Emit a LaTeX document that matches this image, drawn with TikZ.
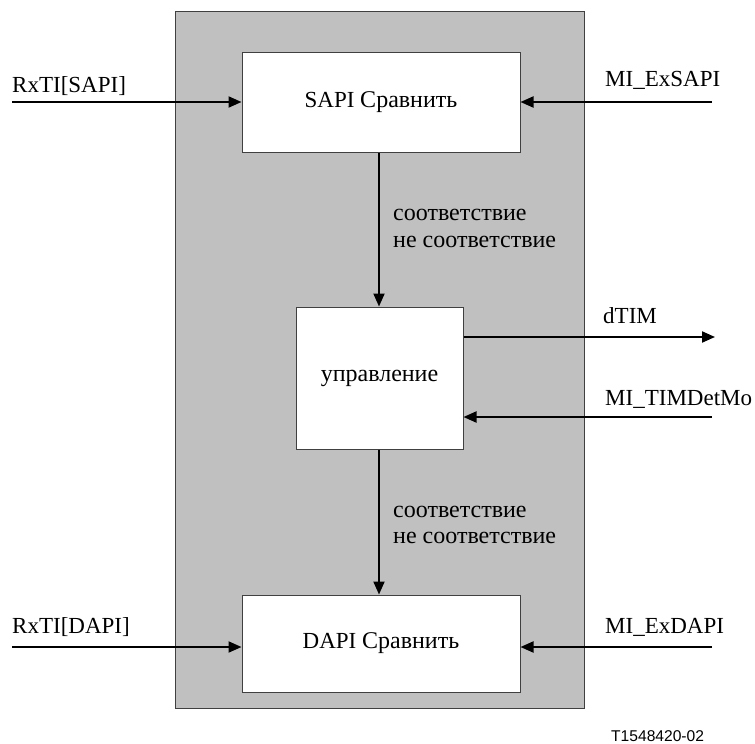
\documentclass[tikz,border=0pt]{standalone}
\usepackage{fontspec}
\setmainfont{Liberation Serif}
\newfontfamily\labelsans{Liberation Sans}
\usetikzlibrary{arrows.meta}
\definecolor{panel}{RGB}{192,192,192}
\definecolor{edge}{RGB}{64,64,64}
\begin{document}
\begin{tikzpicture}[x=1pt,y=-1pt,
  font=\fontsize{23}{27}\selectfont,
  cyr/.style={font=\fontsize{24}{28}\selectfont},
  blk/.style={draw=edge, line width=1pt, fill=white, inner sep=0pt},
  sig/.style={line width=2pt, -{Triangle[length=13pt,width=11pt]}},
  lbl/.style={anchor=base west, inner sep=0pt}]
\useasboundingbox (0,0) rectangle (755,744);
% grey frame of the TIM process
\node[draw=edge, line width=1pt, fill=panel, minimum width=409pt, minimum height=697pt, inner sep=0pt] (panel) at (379.5,359.5) {};
% function blocks
\node[blk, minimum width=278pt, minimum height=100pt] (sapi) at (381,102) {SAPI \fontsize{24}{28}\selectfont Сравнить};
\node[blk, cyr, minimum width=167pt, minimum height=142pt] (ctrl) at (379.5,378) {управление};
\node[blk, minimum width=278pt, minimum height=97pt] (dapi) at (381,643.5) {DAPI \fontsize{24}{28}\selectfont Сравнить};
% free ends of the external signals
\coordinate (inSapi) at (12,102);
\coordinate (exSapi) at (712,102);
\coordinate (outTim) at (715,337);
\coordinate (detMo) at (712,417);
\coordinate (inDapi) at (12,647);
\coordinate (exDapi) at (712,647);
% signals
\draw[sig] (inSapi) -- (inSapi -| sapi.west);
\draw[sig] (exSapi) -- (exSapi -| sapi.east);
\draw[sig] (sapi.south -| 379,0) -- (ctrl.north -| 379,0);
\draw[sig] (outTim -| ctrl.east) -- (outTim);
\draw[sig] (detMo) -- (detMo -| ctrl.east);
\draw[sig] (ctrl.south -| 379,0) -- (dapi.north -| 379,0);
\draw[sig] (inDapi) -- (inDapi -| dapi.west);
\draw[sig] (exDapi) -- (exDapi -| dapi.east);
% labels
\node[lbl] (lInSapi) at (12,92) {RxTI[SAPI]};
\node[lbl] (lExSapi) at (605,86) {MI\_ExSAPI};
\node[lbl, cyr] (lMatch1) at (393,220) {соответствие};
\node[lbl, cyr] (lMis1) at (393,247) {не соответствие};
\node[lbl] (lTim) at (603,323) {dTIM};
\node[lbl] (lDetMo) at (605,405) {MI\_TIMDetMo};
\node[lbl, cyr] (lMatch2) at (393,517) {соответствие};
\node[lbl, cyr] (lMis2) at (393,543) {не соответствие};
\node[lbl] (lInDapi) at (12,633) {RxTI[DAPI]};
\node[lbl] (lExDapi) at (605,633) {MI\_ExDAPI};
\node[lbl, font=\labelsans\fontsize{15.6}{18}\selectfont] (code) at (611,741) {T1548420-02};
\end{tikzpicture}
\end{document}
